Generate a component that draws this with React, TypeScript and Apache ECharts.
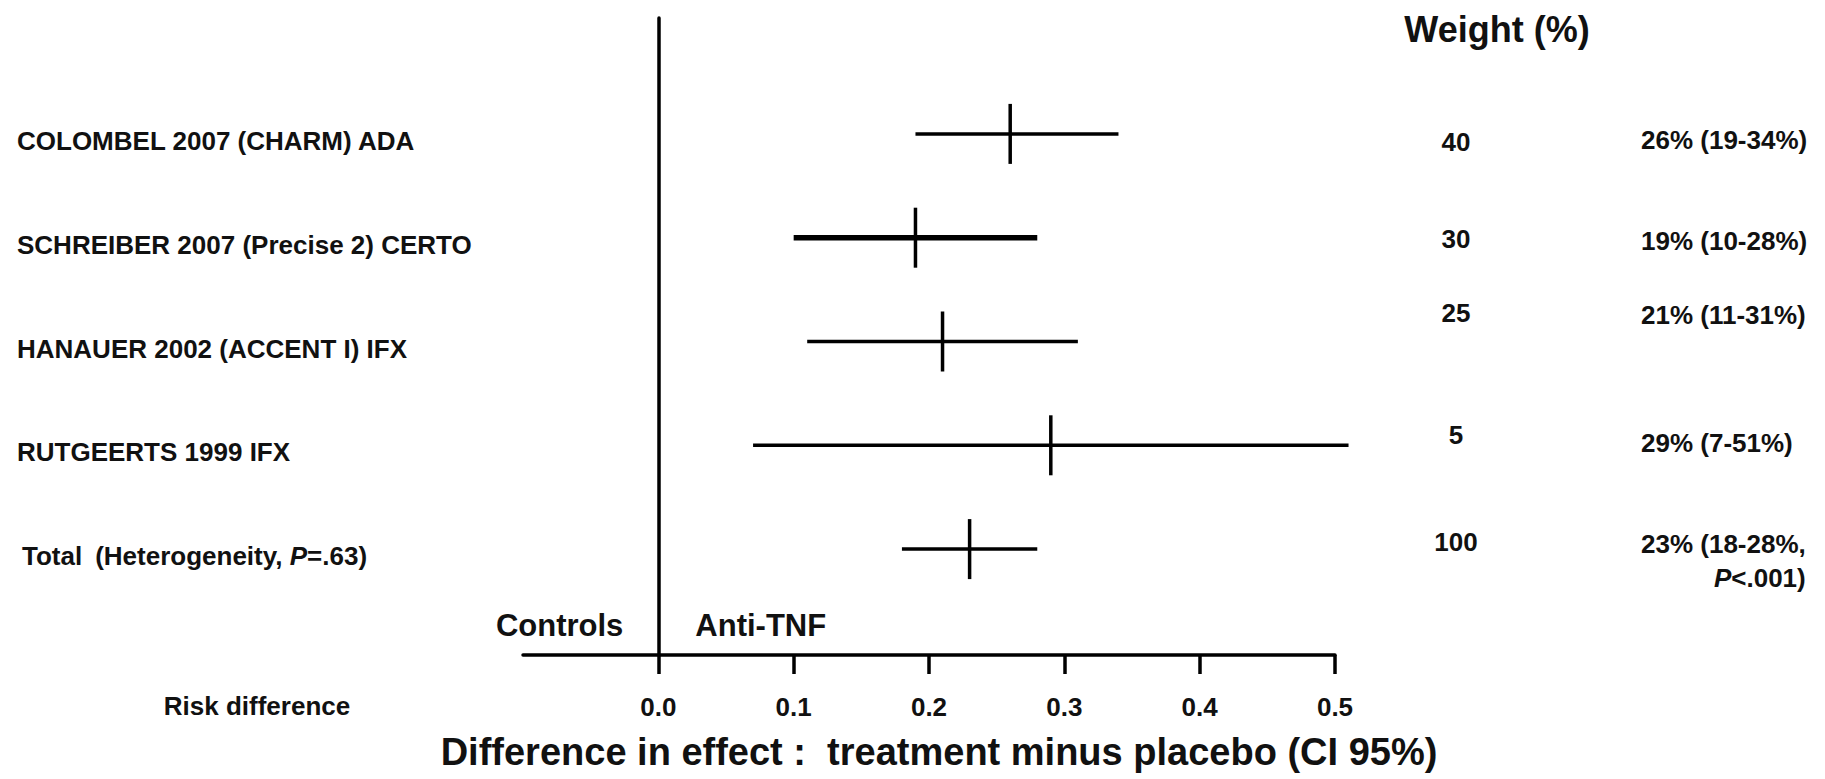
import React, { useEffect, useRef } from 'react';
import * as echarts from 'echarts';

// Trials in the meta-analysis, top to bottom; the last row is the pooled estimate.
const studies = [
  'COLOMBEL 2007 (CHARM) ADA',
  'SCHREIBER 2007 (Precise 2) CERTO',
  'HANAUER 2002 (ACCENT I) IFX',
  'RUTGEERTS 1999 IFX',
  'Total',
];
// Risk difference (treatment minus placebo) with 95% CI bounds.
const riskDiff = [0.26, 0.19, 0.21, 0.29, 0.23];
const ciLower = [0.19, 0.1, 0.11, 0.07, 0.18];
const ciUpper = [0.34, 0.28, 0.31, 0.51, 0.28];
// Weight of each trial in the pooled estimate (%).
const weights = [40, 30, 25, 5, 100];
const xTicks = [0, 0.1, 0.2, 0.3, 0.4, 0.5];
const heterogeneityP = '=.63';
const overallP = '<.001';

const FONT = "'Liberation Sans', Arial, Helvetica, sans-serif";
const INK = '#111';

// Layout / style constants
const GRID_LEFT = 523;
const GRID_RIGHT = 490;
const CI_LINE_WIDTH = [3.5, 5.5, 3.5, 3.5, 3.5];
const CROSS_HALF = 30;
const WEIGHT_X = 1456;
const RESULT_X = 1641;
const HEADER_X = 1497;
const WEIGHT_NUDGE = [8, 1, -29, -10, -7];
const RESULT_NUDGE = [6, 3, -27, -2, -5];

const pct = (v: number) => Math.round(v * 100);

export default function App() {
  const ref = useRef<HTMLDivElement>(null);

  useEffect(() => {
    const el = ref.current;
    if (!el) return;
    const chart = echarts.init(el, null, { renderer: 'svg' });

    const rows = studies.map((_, i) => [i, ciLower[i], riskDiff[i], ciUpper[i]]);

    const renderItem = (params: any, api: any) => {
      const row = api.value(0);
      const left = api.coord([api.value(1), row]);
      const mid = api.coord([api.value(2), row]);
      const right = api.coord([api.value(3), row]);
      const y = left[1];
      return {
        type: 'group',
        children: [
          {
            type: 'line',
            shape: { x1: left[0], y1: y, x2: right[0], y2: y },
            style: { stroke: '#000', lineWidth: CI_LINE_WIDTH[params.dataIndex] },
          },
          {
            type: 'line',
            shape: { x1: mid[0], y1: y - CROSS_HALF, x2: mid[0], y2: y + CROSS_HALF },
            style: { stroke: '#000', lineWidth: 3.5 },
          },
        ],
      };
    };

    const option: any = {
      animation: false,
      backgroundColor: '#fff',
      textStyle: { fontFamily: FONT, color: INK },
      grid: [
        { left: GRID_LEFT, right: GRID_RIGHT, top: 18, bottom: 124 },
        { left: GRID_LEFT, right: GRID_RIGHT, top: 82, bottom: 178 },
      ],
      xAxis: [
        {
          type: 'value',
          gridIndex: 0,
          min: -0.1,
          max: 0.5,
          interval: 0.1,
          axisLine: { show: true, onZero: false, lineStyle: { color: '#000', width: 3.5 } },
          axisTick: {
            show: true,
            length: 19,
            customValues: xTicks,
            lineStyle: { color: '#000', width: 3.5 },
          },
          axisLabel: {
            show: true,
            customValues: xTicks,
            margin: 39,
            formatter: (v: number) => v.toFixed(1),
            fontSize: 26,
            fontWeight: 'bold',
            fontFamily: FONT,
            color: INK,
          },
          splitLine: { show: false },
          name: 'Difference in effect :  treatment minus placebo (CI 95%)',
          nameLocation: 'middle',
          nameGap: 78,
          nameTextStyle: {
            fontSize: 38,
            fontWeight: 'bold',
            fontFamily: FONT,
            color: INK,
            padding: [0, 0, 0, 20],
          },
        },
        { type: 'value', gridIndex: 1, min: -0.1, max: 0.5, show: false },
      ],
      yAxis: [
        {
          type: 'value',
          gridIndex: 0,
          min: 0,
          max: 1,
          axisLine: { show: true, onZero: true, lineStyle: { color: '#000', width: 3.5 } },
          axisTick: { show: false },
          axisLabel: { show: false },
          splitLine: { show: false },
        },
        {
          type: 'category',
          gridIndex: 1,
          inverse: true,
          data: studies,
          axisLine: { show: false },
          axisTick: { show: false },
          splitLine: { show: false },
          axisLabel: {
            align: 'left',
            margin: GRID_LEFT - 17,
            padding: [14, 0, 0, 0],
            formatter: (v: string, i: number) =>
              i === studies.length - 1
                ? `{t|${v}}{n|(Heterogeneity, }{i|P}{n|${heterogeneityP})}`
                : `{n|${v}}`,
            rich: {
              t: { fontSize: 26, fontWeight: 'bold', fontFamily: FONT, color: INK, padding: [0, 13, 0, 5] },
              n: { fontSize: 26, fontWeight: 'bold', fontFamily: FONT, color: INK },
              i: { fontSize: 26, fontWeight: 'bold', fontStyle: 'italic', fontFamily: FONT, color: INK },
            },
          },
        },
      ],
      series: [
        {
          type: 'custom',
          xAxisIndex: 1,
          yAxisIndex: 1,
          data: rows,
          encode: { x: [1, 2, 3], y: 0 },
          renderItem,
          clip: false,
          silent: true,
        },
      ],
    };

    chart.setOption(option);

    const x0 = chart.convertToPixel({ xAxisIndex: 0 }, 0) as number;
    const axisY = chart.convertToPixel({ yAxisIndex: 0 }, 0) as number;
    const rowY = studies.map((_, i) => chart.convertToPixel({ yAxisIndex: 1 }, i) as number);

    const txt = (text: string, x: number, y: number, size: number, align: string, extra: any = {}) => ({
      type: 'text',
      x,
      y,
      silent: true,
      style: {
        text,
        fontSize: size,
        fontWeight: 'bold',
        fontFamily: FONT,
        fill: INK,
        align,
        verticalAlign: 'middle',
        ...extra,
      },
    });

    const last = studies.length - 1;
    const graphics: any[] = [
      txt('Weight (%)', HEADER_X, 29, 36, 'center'),
      txt('Controls', x0 - 35, axisY - 30, 31, 'right'),
      txt('Anti-TNF', x0 + 37, axisY - 30, 31, 'left'),
      txt('Risk difference', 257, 706, 26, 'center'),
      ...weights.map((w, i) => txt(String(w), WEIGHT_X, rowY[i] + WEIGHT_NUDGE[i], 26, 'center')),
      ...studies.slice(0, last).map((_, i) =>
        txt(
          `${pct(riskDiff[i])}% (${pct(ciLower[i])}-${pct(ciUpper[i])}%)`,
          RESULT_X,
          rowY[i] + RESULT_NUDGE[i],
          26,
          'left'
        )
      ),
      {
        type: 'text',
        x: RESULT_X,
        y: rowY[last] + RESULT_NUDGE[last] - 17,
        silent: true,
        style: {
          text:
            `{a|${pct(riskDiff[last])}% (${pct(ciLower[last])}-${pct(ciUpper[last])}%,}\n` +
            `{pi|P}{pr|${overallP})}`,
          align: 'left',
          verticalAlign: 'top',
          fontFamily: FONT,
          rich: {
            a: { fontSize: 26, fontWeight: 'bold', fontFamily: FONT, fill: INK, lineHeight: 34 },
            pi: { fontSize: 26, fontWeight: 'bold', fontStyle: 'italic', fontFamily: FONT, fill: INK, lineHeight: 34, align: 'right' },
            pr: { fontSize: 26, fontWeight: 'bold', fontFamily: FONT, fill: INK, lineHeight: 34, align: 'right' },
          },
        },
      },
    ];

    chart.setOption({ graphic: graphics });

    return () => {
      chart.dispose();
    };
  }, []);

  return (
    <div
      ref={ref}
      style={{ position: 'absolute', left: 0, top: 0, width: 1825, height: 779, background: '#fff' }}
    />
  );
}
